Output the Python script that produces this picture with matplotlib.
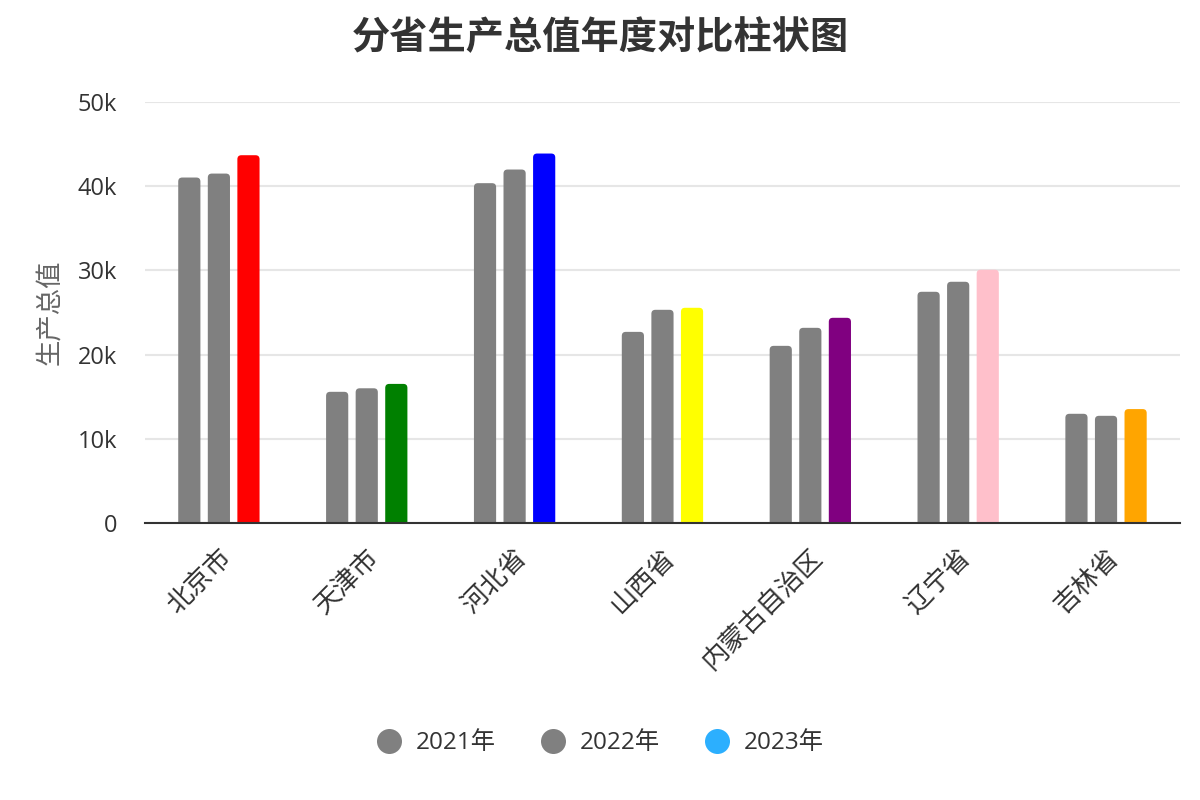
import numpy as np
import matplotlib.pyplot as plt
from matplotlib.patches import FancyBboxPatch
from matplotlib.lines import Line2D
from matplotlib.ticker import FuncFormatter

plt.rcParams['font.family'] = ['Open Sans', 'Noto Sans CJK SC', 'DejaVu Sans']

# 数据
provinces = ['北京市', '天津市', '河北省', '山西省', '内蒙古自治区', '辽宁省', '吉林省']
years = ['2021年', '2022年', '2023年']
gdp_2021 = [41030, 15580, 40360, 22700, 21040, 27460, 12970]
gdp_2022 = [41500, 16000, 41980, 25320, 23180, 28650, 12730]
gdp_2023 = [43680, 16520, 43880, 25560, 24370, 30080, 13530]
colors_2023 = ['red', 'green', 'blue', 'yellow', 'purple', 'pink', 'orange']
legend_colors = ['#808080', '#808080', '#2caffe']

fig = plt.figure(figsize=(12, 8), dpi=100)
ax = fig.add_axes([0.1208, 0.34625, 0.8625, 0.52625])

x = np.arange(len(provinces))
bar_w = 0.15
step = 0.2
ymax = 50000

# 圆角柱子：像素换算成数据单位
ax.set_xlim(-0.5, len(provinces) - 0.5)
ax.set_ylim(0, ymax)
px_per_x = 1035 / len(provinces)
px_per_y = 421 / ymax
r_px = 4
r_x = r_px / px_per_x
aspect = (1 / px_per_y) / (1 / px_per_x)

series = [gdp_2021, gdp_2022, gdp_2023]
for k, vals in enumerate(series):
    for i, v in enumerate(vals):
        c = colors_2023[i] if k == 2 else '#808080'
        left = x[i] + (k - 1) * step - bar_w / 2
        bottom = -r_px / px_per_y
        patch = FancyBboxPatch((left + r_x, bottom + r_x * aspect),
                               bar_w - 2 * r_x, v - bottom - 2 * r_x * aspect,
                               boxstyle=f'round,pad={r_x},rounding_size={r_x}',
                               mutation_aspect=aspect,
                               facecolor=c, edgecolor='none', zorder=3)
        ax.add_patch(patch)

ax.set_yticks(np.arange(0, ymax + 1, 10000))
ax.yaxis.set_major_formatter(FuncFormatter(lambda v, p: '0' if v == 0 else f'{int(v/1000)}k'))
ax.grid(axis='y', color='#e6e6e6', linewidth=1.5, zorder=0)
ax.set_axisbelow(True)

for s in ['top', 'right', 'left']:
    ax.spines[s].set_visible(False)
ax.spines['bottom'].set_color('#333333')
ax.spines['bottom'].set_linewidth(1.5)
ax.spines['bottom'].set_zorder(4)

ax.tick_params(axis='y', length=0, pad=20, labelsize=17, labelcolor='#333333')
ax.tick_params(axis='x', length=0, pad=16, labelsize=19, labelcolor='#333333')
ax.set_xticks(x)
ax.set_xticklabels(provinces, rotation=45, ha='right', rotation_mode='anchor')

ax.set_ylabel('生产总值', fontsize=19, color='#666666', labelpad=10)

fig.text(0.5, 0.951, '分省生产总值年度对比柱状图', ha='center', va='center',
         fontsize=27.5, fontweight='bold', color='#333333')

handles = [Line2D([0], [0], marker='o', linestyle='none', markersize=18,
                  markerfacecolor=c, markeredgecolor='none') for c in legend_colors]
fig.legend(handles, years, loc='center', bbox_to_anchor=(0.5, 0.071), ncol=3,
           frameon=False, fontsize=17.5, labelcolor='#333333',
           handlelength=1.0, handletextpad=0.6, columnspacing=1.85)

fig.savefig('out.png', dpi=100)
